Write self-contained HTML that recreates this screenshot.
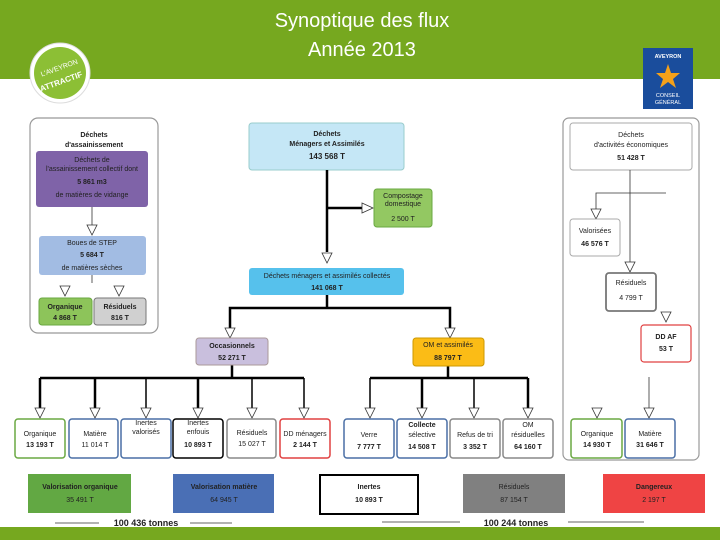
<!DOCTYPE html>
<html><head><meta charset="utf-8"><style>
html,body{margin:0;padding:0;background:#fff;}
svg{display:block;font-family:"Liberation Sans",sans-serif;}
text{font-size:7px;fill:#222;text-anchor:middle;font-weight:bold;}
.n{font-weight:normal;}
.w{fill:#fff;}
</style></head><body>
<svg width="720" height="540" viewBox="0 0 720 540" xmlns="http://www.w3.org/2000/svg">
<defs>
<g id="ar"><polygon points="-5,-10 5,-10 0,0" fill="#fff" stroke="#333" stroke-width="0.8"/></g>
</defs>
<!-- header -->
<rect x="0" y="0" width="720" height="79" fill="#76a81f"/>
<text x="362" y="27" style="font-size:20px;font-weight:normal" class="w">Synoptique des flux</text>
<text x="362" y="56" style="font-size:20px;font-weight:normal" class="w">Année 2013</text>
<circle cx="60" cy="73" r="30" fill="#fff" stroke="#dcdcdc"/>
<circle cx="60" cy="73" r="26" fill="#8cbf35"/>
<text x="60" y="70" class="w n" style="font-size:7px" transform="rotate(-20 60 70)">L'AVEYRON</text>
<text x="62" y="84" class="w" style="font-size:8px" transform="rotate(-20 62 84)">ATTRACTIF</text>
<rect x="643" y="48" width="50" height="61" fill="#1a4d9c"/>
<text x="668" y="58" class="w" style="font-size:5.5px">AVEYRON</text>
<polygon points="668,64 671,73 680,73 673,79 676,88 668,82 660,88 663,79 656,73 665,73" fill="#f4a11a"/>
<text x="668" y="97" class="w n" style="font-size:5.5px">CONSEIL</text>
<text x="668" y="104" class="w n" style="font-size:5.5px">GÉNÉRAL</text>
<!-- bottom band -->
<rect x="0" y="527" width="720" height="13" fill="#76a81f"/>

<!-- right panel outer (drawn first) -->
<rect x="563" y="118" width="136" height="342" rx="6" fill="#fff" stroke="#999" stroke-width="1.2"/>

<!-- left panel -->
<rect x="30" y="118" width="128" height="215" rx="8" fill="#fff" stroke="#999" stroke-width="1.2"/>
<text x="94" y="137">Déchets</text>
<text x="94" y="147">d'assainissement</text>
<rect x="36" y="151" width="112" height="56" rx="3" fill="#7f63a8"/>
<text x="92" y="162" class="n">Déchets de</text>
<text x="92" y="171" class="n">l'assainissement collectif dont</text>
<text x="92" y="184">5 861 m3</text>
<text x="92" y="197" class="n">de matières de vidange</text>
<line x1="92" y1="207" x2="92" y2="225" stroke="#333" stroke-width="0.8"/>
<use href="#ar" x="92" y="235"/>
<rect x="39" y="236" width="107" height="39" rx="3" fill="#a2bce3"/>
<text x="92" y="245" class="n">Boues de STEP</text>
<text x="92" y="257">5 684 T</text>
<text x="92" y="270" class="n">de matières sèches</text>
<line x1="92" y1="275" x2="92" y2="283" stroke="#333" stroke-width="0.8"/>
<use href="#ar" x="65" y="296"/><use href="#ar" x="119" y="296"/>
<rect x="39" y="298" width="53" height="27" rx="3" fill="#8dc45a" stroke="#6aa842"/>
<text x="65" y="309">Organique</text><text x="65" y="320">4 868 T</text>
<rect x="94" y="298" width="52" height="27" rx="3" fill="#d0d0d0" stroke="#777"/>
<text x="120" y="309">Résiduels</text><text x="120" y="320">816 T</text>

<!-- center -->
<rect x="249" y="123" width="155" height="47" rx="3" fill="#c5e7f6" stroke="#9cc"/>
<text x="327" y="136">Déchets</text>
<text x="327" y="146">Ménagers et Assimilés</text>
<text x="327" y="159" style="font-size:8px">143 568 T</text>
<g stroke="#000" stroke-width="2.5" fill="none">
<line x1="327" y1="170" x2="327" y2="252"/>
<line x1="327" y1="208" x2="362" y2="208"/>
<line x1="327" y1="295" x2="327" y2="308"/>
<polyline points="230,328 230,308 450,308 450,328"/>
<polyline points="232,365 232,378"/>
<line x1="40" y1="378" x2="304" y2="378"/>
<line x1="40" y1="378" x2="40" y2="408"/>
<line x1="95" y1="378" x2="95" y2="408"/>
<line x1="146" y1="378" x2="146" y2="408" stroke-width="1.5"/>
<line x1="198" y1="378" x2="198" y2="408"/>
<line x1="252" y1="378" x2="252" y2="408" stroke-width="1.5"/>
<line x1="304" y1="378" x2="304" y2="408" stroke-width="1.5"/>
<line x1="448" y1="366" x2="448" y2="378"/>
<line x1="370" y1="378" x2="528" y2="378"/>
<line x1="370" y1="378" x2="370" y2="408" stroke-width="1.5"/>
<line x1="422" y1="378" x2="422" y2="408"/>
<line x1="474" y1="378" x2="474" y2="408" stroke-width="1.5"/>
<line x1="528" y1="378" x2="528" y2="408"/>
</g>
<use href="#ar" x="327" y="263"/>
<polygon points="362,203 362,213 373,208" fill="#fff" stroke="#333" stroke-width="0.8"/>
<rect x="374" y="189" width="58" height="38" rx="3" fill="#93c862" stroke="#6aa842"/>
<text x="403" y="198" class="n">Compostage</text>
<text x="403" y="206" class="n">domestique</text>
<text x="403" y="221" class="n">2 500 T</text>
<rect x="249" y="268" width="155" height="27" rx="3" fill="#56c1ec"/>
<text x="327" y="278" class="n">Déchets ménagers et assimilés collectés</text>
<text x="327" y="290">141 068 T</text>
<use href="#ar" x="230" y="338"/><use href="#ar" x="450" y="338"/>
<rect x="196" y="338" width="72" height="27" rx="3" fill="#c9bfdd" stroke="#a99"/>
<text x="232" y="348">Occasionnels</text><text x="232" y="360">52 271 T</text>
<rect x="413" y="338" width="71" height="28" rx="3" fill="#fbbc16" stroke="#c90"/>
<text x="448" y="347" class="n">OM et assimilés</text><text x="448" y="360">88 797 T</text>

<!-- right panel content -->
<rect x="570" y="123" width="122" height="47" rx="3" fill="#fff" stroke="#aaa"/>
<text x="631" y="137" class="n">Déchets</text>
<text x="631" y="147" class="n">d'activités économiques</text>
<text x="631" y="160">51 428 T</text>
<g stroke="#333" stroke-width="0.8" fill="none">
<line x1="630" y1="170" x2="630" y2="262"/>
<polyline points="666,193 596,193 596,209"/>
<line x1="649" y1="377" x2="649" y2="408"/>
</g>
<use href="#ar" x="596" y="219"/>
<use href="#ar" x="630" y="272"/>
<use href="#ar" x="666" y="322"/>
<rect x="570" y="219" width="50" height="37" rx="3" fill="#fff" stroke="#aaa"/>
<text x="595" y="233" class="n">Valorisées</text><text x="595" y="246">46 576 T</text>
<rect x="606" y="273" width="50" height="38" rx="3" fill="#fff" stroke="#777" stroke-width="1.8"/>
<text x="631" y="285" class="n">Résiduels</text><text x="631" y="300" class="n">4 799 T</text>
<rect x="641" y="325" width="50" height="37" rx="3" fill="#fff" stroke="#e04040" stroke-width="1.2"/>
<text x="666" y="339">DD AF</text><text x="666" y="351">53 T</text>

<g>
<use href="#ar" x="40" y="418"/><use href="#ar" x="95" y="418"/><use href="#ar" x="146" y="418"/>
<use href="#ar" x="198" y="418"/><use href="#ar" x="252" y="418"/><use href="#ar" x="304" y="418"/>
<use href="#ar" x="370" y="418"/><use href="#ar" x="422" y="418"/><use href="#ar" x="474" y="418"/><use href="#ar" x="528" y="418"/>
<use href="#ar" x="597" y="418"/><use href="#ar" x="649" y="418"/>
</g>
<g fill="#fff" stroke-width="1.5">
<rect x="15" y="419" width="50" height="39" rx="3" stroke="#6aa842"/>
<rect x="69" y="419" width="49" height="39" rx="3" stroke="#4a6fa5"/>
<rect x="121" y="419" width="50" height="39" rx="3" stroke="#4a6fa5"/>
<rect x="173" y="419" width="50" height="39" rx="3" stroke="#000"/>
<rect x="227" y="419" width="49" height="39" rx="3" stroke="#888"/>
<rect x="280" y="419" width="50" height="39" rx="3" stroke="#e04040"/>
<rect x="344" y="419" width="50" height="39" rx="3" stroke="#4a6fa5"/>
<rect x="397" y="419" width="50" height="39" rx="3" stroke="#4a6fa5"/>
<rect x="450" y="419" width="50" height="39" rx="3" stroke="#888"/>
<rect x="503" y="419" width="50" height="39" rx="3" stroke="#888"/>
<rect x="571" y="419" width="51" height="39" rx="3" stroke="#6aa842"/>
<rect x="625" y="419" width="50" height="39" rx="3" stroke="#4a6fa5"/>
</g>
<text x="40" y="436" class="n">Organique</text><text x="40" y="447">13 193 T</text>
<text x="95" y="436" class="n">Matière</text><text x="95" y="447" class="n">11 014 T</text>
<text x="146" y="425" class="n">Inertes</text><text x="146" y="434" class="n">valorisés</text>
<text x="198" y="425" class="n">Inertes</text><text x="198" y="434" class="n">enfouis</text><text x="198" y="447">10 893 T</text>
<text x="252" y="435" class="n">Résiduels</text><text x="252" y="446" class="n">15 027 T</text>
<text x="305" y="436" class="n">DD ménagers</text><text x="305" y="447">2 144 T</text>
<text x="369" y="437" class="n">Verre</text><text x="369" y="449">7 777 T</text>
<text x="422" y="427">Collecte</text><text x="422" y="437" class="n">sélective</text><text x="422" y="449">14 508 T</text>
<text x="475" y="437" class="n">Refus de tri</text><text x="475" y="449">3 352 T</text>
<text x="528" y="427" class="n">OM</text><text x="528" y="437" class="n">résiduelles</text><text x="528" y="449">64 160 T</text>
<text x="597" y="436" class="n">Organique</text><text x="597" y="447">14 930 T</text>
<text x="650" y="436" class="n">Matière</text><text x="650" y="447">31 646 T</text>

<!-- summary -->
<rect x="28" y="474" width="103" height="39" fill="#62a843"/>
<text x="80" y="489">Valorisation organique</text><text x="80" y="502" class="n">35 491 T</text>
<rect x="173" y="474" width="101" height="39" fill="#4a6fb5"/>
<text x="224" y="489">Valorisation matière</text><text x="224" y="502" class="n">64 945 T</text>
<rect x="320" y="475" width="98" height="39" fill="#fff" stroke="#000" stroke-width="2"/>
<text x="369" y="489">Inertes</text><text x="369" y="502">10 893 T</text>
<rect x="463" y="474" width="102" height="39" fill="#808080"/>
<text x="514" y="489" class="n">Résiduels</text><text x="514" y="502" class="n">87 154 T</text>
<rect x="603" y="474" width="102" height="39" fill="#ef4444"/>
<text x="654" y="489">Dangereux</text><text x="654" y="502" class="n">2 197 T</text>
<g stroke="#333" stroke-width="0.8">
<line x1="55" y1="523" x2="99" y2="523"/><line x1="190" y1="523" x2="232" y2="523"/>
<line x1="382" y1="522" x2="460" y2="522"/><line x1="568" y1="522" x2="644" y2="522"/>
</g>
<text x="146" y="526" style="font-size:9px">100 436  tonnes</text>
<text x="516" y="526" style="font-size:9px">100 244  tonnes</text>
</svg>
</body></html>
